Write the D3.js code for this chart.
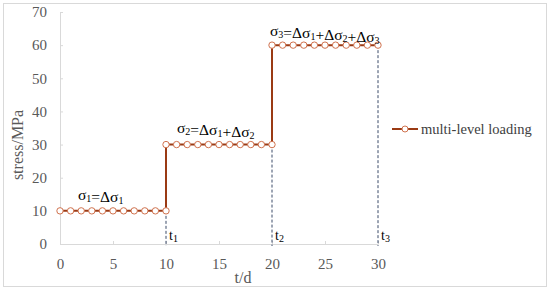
<!DOCTYPE html>
<html>
<head>
<meta charset="utf-8">
<script src="https://cdn.jsdelivr.net/npm/d3@7"></script>
<style>
  body { margin: 0; background: #fff; }
  svg { display: block; }
</style>
</head>
<body>
<div id="chart"></div>
<script>
// Step loading data: stress held at each level for 10 days
var timeValues = [0, 1, 2, 3, 4, 5, 6, 7, 8, 9, 10,
                  10, 11, 12, 13, 14, 15, 16, 17, 18, 19, 20,
                  20, 21, 22, 23, 24, 25, 26, 27, 28, 29, 30];
var stressValues = [10, 10, 10, 10, 10, 10, 10, 10, 10, 10, 10,
                    30, 30, 30, 30, 30, 30, 30, 30, 30, 30, 30,
                    60, 60, 60, 60, 60, 60, 60, 60, 60, 60, 60];
var xTicks = [0, 5, 10, 15, 20, 25, 30];
var yTicks = [0, 10, 20, 30, 40, 50, 60, 70];
// dashed markers at the end of each stage
var stageEnds = [
  { t: 10, s: 10, label: "t", sub: "1" },
  { t: 20, s: 30, label: "t", sub: "2" },
  { t: 30, s: 60, label: "t", sub: "3" }
];
var seriesName = "multi-level loading";

var width = 550,
    height = 292;

var lineColor = "#9a3a14",
    markerColor = "#d0724e",
    tickColor = "#595959",
    axisColor = "#d9d9d9";

var points = timeValues.map(function(t, i) { return { t: t, s: stressValues[i] }; });

var svg = d3.select("#chart")
    .append("svg")
    .attr("width", width)
    .attr("height", height);

// outer chart border
svg.append("rect")
    .attr("x", 3.5)
    .attr("y", 3.5)
    .attr("width", 543)
    .attr("height", 283)
    .attr("fill", "none")
    .attr("stroke", axisColor);

var x = d3.scaleLinear().domain([0, 30]).range([60, 378]);
var y = d3.scaleLinear().domain([0, 70]).range([244, 12]);

var serif = "'Liberation Serif', 'Times New Roman', serif";

// y axis
var yAxis = svg.append("g")
    .attr("transform", "translate(" + x(0) + ",0)")
    .call(d3.axisLeft(y).tickValues(yTicks).tickSize(-3).tickSizeOuter(0).tickPadding(13));
// x axis
var xAxis = svg.append("g")
    .attr("transform", "translate(0," + y(0) + ")")
    .call(d3.axisBottom(x).tickValues(xTicks).tickSize(-3).tickSizeOuter(0).tickPadding(14));

[yAxis, xAxis].forEach(function(ax) {
  ax.select(".domain").attr("stroke", axisColor);
  ax.selectAll(".tick line").attr("stroke", axisColor);
  ax.selectAll(".tick text")
      .attr("fill", tickColor)
      .style("font-family", serif)
      .style("font-size", "15px");
});

// axis titles
svg.append("text")
    .attr("transform", "translate(23,145) rotate(-90)")
    .attr("text-anchor", "middle")
    .attr("fill", tickColor)
    .style("font-family", serif)
    .style("font-size", "16px")
    .text("stress/MPa");

svg.append("text")
    .attr("x", 243)
    .attr("y", 283)
    .attr("text-anchor", "middle")
    .attr("fill", tickColor)
    .style("font-family", serif)
    .style("font-size", "16px")
    .text("t/d");

// dashed drop lines
svg.append("g")
    .selectAll("line")
    .data(stageEnds)
    .enter()
    .append("line")
    .attr("x1", d => x(d.t))
    .attr("x2", d => x(d.t))
    .attr("y1", d => y(d.s))
    .attr("y2", y(0) + 2)
    .attr("stroke", "#3b4a68")
    .attr("stroke-width", 1)
    .attr("stroke-dasharray", "3,2");

// t labels
var tLabels = svg.append("g")
    .selectAll("text")
    .data(stageEnds)
    .enter()
    .append("text")
    .attr("x", d => x(d.t) + 3)
    .attr("y", 240)
    .attr("fill", "#000")
    .style("font-family", serif)
    .style("font-size", "14px");
tLabels.append("tspan").text(d => d.label);
tLabels.append("tspan")
    .attr("dy", 2)
    .style("font-size", "10px")
    .text(d => d.sub);

// step line
var line = d3.line()
    .x(d => x(d.t))
    .y(d => y(d.s));

svg.append("path")
    .datum(points)
    .attr("d", line)
    .attr("fill", "none")
    .attr("stroke", lineColor)
    .attr("stroke-width", 2);

svg.append("g")
    .selectAll("circle")
    .data(points)
    .enter()
    .append("circle")
    .attr("cx", d => x(d.t))
    .attr("cy", d => y(d.s))
    .attr("r", 3.2)
    .attr("fill", "#fff")
    .attr("stroke", markerColor)
    .attr("stroke-width", 1);

// stress annotations: parts as [text, subscript]
var annotations = [
  { x: 78, y: 200, parts: [["σ", "1"], ["=Δσ", "1"]] },
  { x: 177, y: 133, parts: [["σ", "2"], ["=Δσ", "1"], ["+Δσ", "2"]] },
  { x: 270, y: 36, parts: [["σ", "3"], ["=Δσ", "1"], ["+Δσ", "2"], ["+Δσ", "3"]] }
];

annotations.forEach(function(a) {
  var txt = svg.append("text")
      .attr("x", a.x)
      .attr("y", a.y)
      .attr("fill", "#000")
      .style("font-family", serif)
      .style("font-size", "15.5px");
  a.parts.forEach(function(p) {
    txt.append("tspan").attr("dy", 0).text(p[0]);
    txt.append("tspan").attr("dy", 2).style("font-size", "10px").text(p[1]);
    txt.append("tspan").attr("dy", -2).text("");
  });
});

// legend
var legend = svg.append("g").attr("transform", "translate(392,129)");
legend.append("line")
    .attr("x1", 0)
    .attr("x2", 26)
    .attr("stroke", lineColor)
    .attr("stroke-width", 2);
legend.append("circle")
    .attr("cx", 13)
    .attr("r", 3)
    .attr("fill", "#fff")
    .attr("stroke", markerColor);
legend.append("text")
    .attr("x", 29)
    .attr("y", 5)
    .attr("fill", "#404040")
    .style("font-family", serif)
    .style("font-size", "14.5px")
    .text(seriesName);
</script>
</body>
</html>
